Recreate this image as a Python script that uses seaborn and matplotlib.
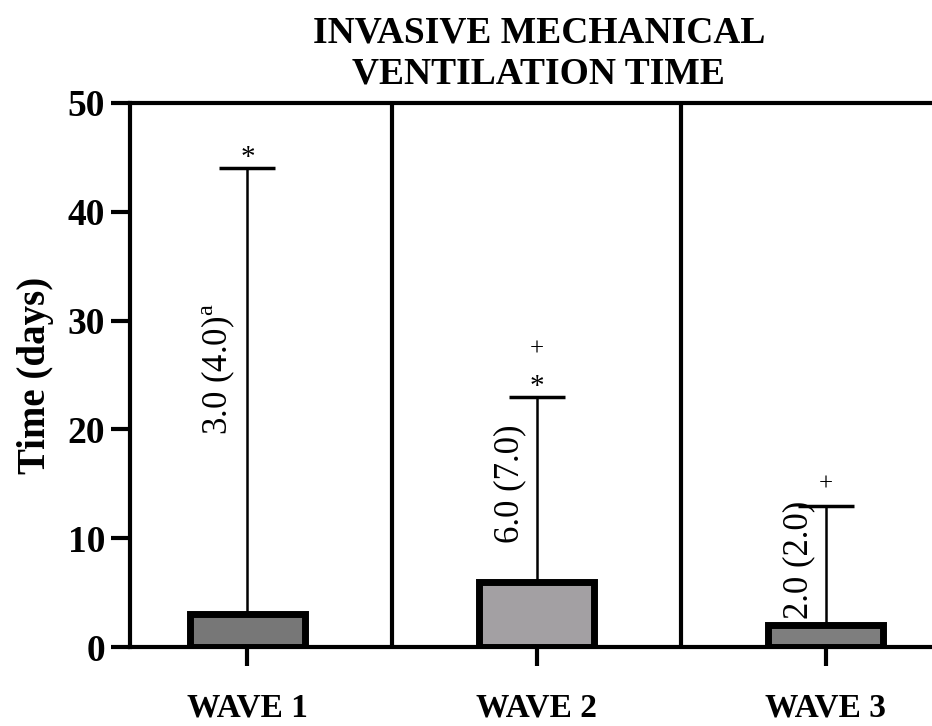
import matplotlib
matplotlib.use("Agg")
import matplotlib.pyplot as plt
import seaborn as sns
import pandas as pd

waves = ["WAVE 1", "WAVE 2", "WAVE 3"]
median_days = [3.0, 6.0, 2.0]
max_days = [44.0, 23.0, 13.0]
iqr_labels = ["3.0 (4.0)$^{\\mathrm{a}}$", "6.0 (7.0)", "2.0 (2.0)"]
fill_colors = ["#777777", "#a49fa4", "#7e7e7e"]
star_marks = ["*", "*", None]
plus_marks = [None, "+", "+"]

sns.set_style("white")
plt.rcParams["font.family"] = ["Liberation Serif", "DejaVu Serif"]
plt.rcParams["mathtext.fontset"] = "custom"
plt.rcParams["mathtext.rm"] = "Liberation Serif"
for k in ["text.color", "axes.labelcolor", "xtick.color", "ytick.color"]:
    plt.rcParams[k] = "black"

df = pd.DataFrame({"wave": waves, "days": median_days})

fig = plt.figure(figsize=(9.32, 7.26), dpi=100)
ax = fig.add_axes([0.1395, 0.1088, 0.8605, 0.7495])

sns.barplot(
    data=df, x="wave", y="days", hue="wave", palette=fill_colors,
    width=0.4, edgecolor="black", linewidth=5, legend=False, ax=ax, zorder=3
)

# one-sided error bar up to the maximum
yerr = [[0, 0, 0], [m - v for m, v in zip(max_days, median_days)]]
ax.errorbar(range(3), median_days, yerr=yerr, fmt="none", ecolor="black",
            elinewidth=1.8, capsize=20.5, capthick=2.5, zorder=2)

# vertical centre of each rotated label, in data units
label_y = [25.5, 15.0, 8.0]
for i, lab in enumerate(iqr_labels):
    ax.text(i - 0.035, label_y[i], lab, rotation=90, ha="right", va="center",
            fontsize=25)
    mx = max_days[i]
    if star_marks[i]:
        ax.text(i, mx - 0.3, star_marks[i], ha="center", va="bottom", fontsize=21)
    if plus_marks[i]:
        y = mx + (3.3 if star_marks[i] else 0.9)
        ax.text(i, y, plus_marks[i], ha="center", va="bottom", fontsize=18)

# separators between waves
for xs in [0.5, 1.5]:
    ax.axvline(xs, color="black", lw=3, zorder=4)

ax.set_xlim(-0.406, 2.368)
ax.set_ylim(0, 50)
ax.set_yticks([0, 10, 20, 30, 40, 50])

for s in ["left", "bottom", "top"]:
    ax.spines[s].set_linewidth(3)
    ax.spines[s].set_color("black")
    ax.spines[s].set_zorder(5)
ax.spines["right"].set_visible(False)

ax.tick_params(axis="both", direction="out", length=14, width=3, color="black")
ax.tick_params(axis="y", labelsize=27, pad=4)
ax.tick_params(axis="x", labelsize=24, pad=19)
for t in ax.get_yticklabels() + ax.get_xticklabels():
    t.set_fontweight("bold")
ax.yaxis.set_ticks_position("left")
ax.xaxis.set_ticks_position("bottom")

ax.set_xlabel("")
ax.set_ylabel("Time (days)", fontsize=28, fontweight="bold", labelpad=10)
fig.text(0.578, 0.979, "INVASIVE MECHANICAL\nVENTILATION TIME", ha="center", va="top",
         fontsize=27, fontweight="bold", linespacing=1.25)

fig.savefig("out.png", dpi=100)
